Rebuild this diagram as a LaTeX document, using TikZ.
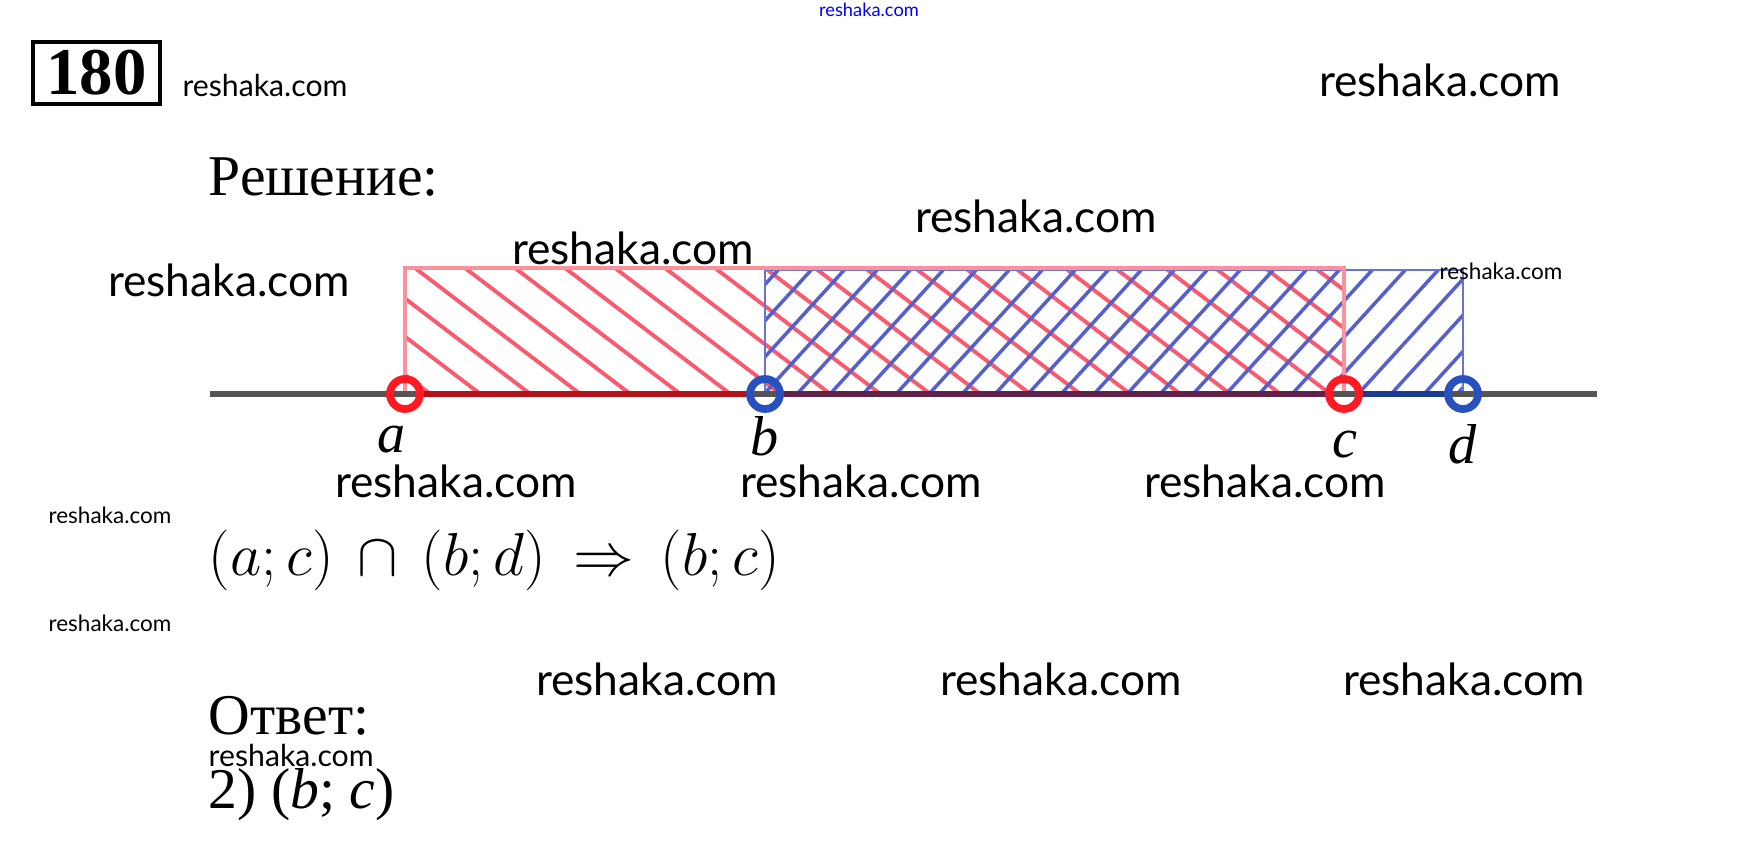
\documentclass[tikz,border=0pt]{standalone}
\usepackage{fontspec}
\setmainfont{Liberation Serif}
\newfontfamily\wmfont{Lato}
\usetikzlibrary{positioning}

\definecolor{rouge}{RGB}{255,25,35}
\definecolor{bleu}{RGB}{40,80,190}
\definecolor{hrouge}{RGB}{248,90,110}
\definecolor{hbleu}{RGB}{85,95,205}
\definecolor{crouge}{RGB}{250,145,155}
\definecolor{cbleu}{RGB}{105,115,210}
\definecolor{gris}{RGB}{85,85,85}

\begin{document}
\begin{tikzpicture}[
    wm/.style={font=\wmfont\fontsize{12.6}{14}\selectfont, inner sep=0pt},
    wmmoyen/.style={font=\wmfont\fontsize{8.6}{10}\selectfont, inner sep=0pt},
    wmpetit/.style={font=\wmfont\fontsize{6.4}{8}\selectfont, inner sep=0pt},
    titre/.style={font=\fontsize{16.4}{20}\selectfont, inner sep=0pt, anchor=west},
    lettre/.style={font=\fontsize{16}{18}\selectfont\itshape, inner sep=0pt, anchor=base},
    point/.style={circle, draw, line width=2.2pt, minimum size=0.30cm, inner sep=0pt}]
    \useasboundingbox (0,0) rectangle (17.38,-8.52);

    % Numero de l'exercice
    \node[draw, line width=1.2pt, minimum width=1.27cm, minimum height=0.62cm, inner sep=0pt,
          font=\bfseries\fontsize{19}{20}\selectfont] (num) at (0.965,-0.73) {180};
    \node[wmmoyen] (wm1) at (2.65,-0.85) {reshaka.com};
    \node[font=\wmfont\fontsize{5.2}{6}\selectfont, inner sep=0pt, blue] (wm0) at (8.69,-0.10) {reshaka.com};
    \node[wm] (wm2) at (14.40,-0.80) {reshaka.com};

    \node[titre] (sol) at (2.08,-1.77) {Решение:};

    \node[wm] (wm3) at (10.36,-2.16) {reshaka.com};
    \node[wm] (wm4) at (6.33,-2.48) {reshaka.com};
    \node[wm] (wm5) at (2.29,-2.80) {reshaka.com};

    % Hachures de (a;c)
    \begin{scope}
     \clip (4.05,-2.68) rectangle (13.44,-3.93);
     \foreach \i in {-4,...,19}
        \draw[hrouge, line width=1.1pt] (4.15+0.5*\i,-2.68) -- ++(1.64,-1.25);
    \end{scope}
    % Hachures de (b;d)
    \begin{scope}
     \clip (7.65,-2.70) rectangle (14.63,-3.93);
     \foreach \i in {-4,...,22}
        \draw[hbleu, line width=1pt] (7.65+0.33*\i,-3.93) -- ++(1.14,1.25);
    \end{scope}
    \draw[cbleu, line width=0.8pt] (7.65,-3.93) |- (14.63,-2.70) -- (14.63,-3.93);
    \draw[crouge, line width=1.1pt] (4.05,-3.93) |- (13.44,-2.68) -- (13.44,-3.93);

    \node[wmpetit] (wm6) at (15.01,-2.71) {reshaka.com};

    % Dessine la droite
    \draw[gris, line width=1.8pt] (2.10,-3.94) -- (15.97,-3.94);
    \node[point, rouge] (a) at (4.05,-3.94) {};
    \node[point, bleu] (b) at (7.65,-3.94) {};
    \node[point, rouge] (c) at (13.44,-3.94) {};
    \node[point, bleu] (d) at (14.63,-3.94) {};
    \draw[rouge!70!black, line width=1.8pt] (a) -- (b);
    \draw[rouge!50!bleu!65!black, line width=1.8pt] (b) -- (c);
    \draw[bleu!75!black, line width=1.8pt] (c) -- (d);

    \node[lettre] (la) at (3.92,-4.53) {a};
    \node[lettre] (lb) at (7.65,-4.56) {b};
    \node[lettre] (lc) at (13.45,-4.58) {c};
    \node[lettre] (ld) at (14.63,-4.64) {d};

    \node[wm] (wm7) at (4.56,-4.81) {reshaka.com};
    \node[wm] (wm8) at (8.61,-4.81) {reshaka.com};
    \node[wm] (wm9) at (12.65,-4.81) {reshaka.com};
    \node[wmpetit] (wm10) at (1.10,-5.15) {reshaka.com};

    % Intersection
    \node[titre, font=\fontsize{16.5}{18}\selectfont] (form) at (2.08,-5.60)
        {$(a;c)\,\cap\,(b;d)\,\Rightarrow\,(b;c)$};

    \node[wmpetit] (wm11) at (1.10,-6.23) {reshaka.com};
    \node[wm] (wm12) at (6.57,-6.79) {reshaka.com};
    \node[wm] (wm13) at (10.61,-6.79) {reshaka.com};
    \node[wm] (wm14) at (14.64,-6.79) {reshaka.com};

    % Reponse
    \node[titre, text depth=0pt] (rep) at (2.08,-7.15) {Ответ:};
    \node[wmmoyen, anchor=west] (wm15) at (2.08,-7.55) {reshaka.com};
    \node[titre] (res) at (2.08,-7.95) {2) (\textit{b}; \textit{c})};

\end{tikzpicture}
\end{document}
